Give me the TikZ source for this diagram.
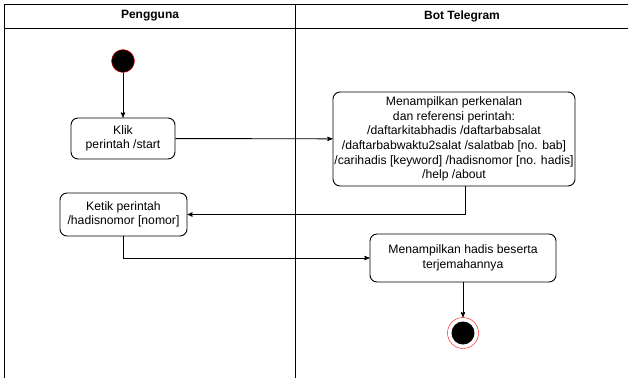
\documentclass[tikz,border=0pt]{standalone}
\usepackage{fontspec}
\setmainfont{Liberation Sans}
\usetikzlibrary{arrows}
\usetikzlibrary{calc}

\begin{document}
\begin{tikzpicture}[x=1pt,y=-1pt,
    lane/.style = {draw = black, line width = 1pt},
    act/.style = {draw = black, line width = 0.9pt, rounded corners = 7pt, align = center, inner sep = 0pt,
        font = \fontsize{12.2}{14.6}\selectfont},
    flow/.style = {draw = black, line width = 0.9pt, -stealth'},
    header/.style = {font = \fontsize{12}{14}\selectfont\bfseries}]
\useasboundingbox (0,0) rectangle (628,378);

    % Swimlanes
\draw[lane] (4,378) -- (4,4) -- (630,4);
\draw[lane] (4,28) -- (630,28);
\draw[lane] (295,4) -- (295,378);
\node[header] (pengguna) at (150,16) {Pengguna};
\node[header] (bot) at (462,16) {Bot Telegram};

\node[circle, draw = red, fill = black, minimum size = 23pt, inner sep = 0pt] (start) at (123,61) {};

\node[act, minimum width = 104pt, minimum height = 41pt] (klik) at (123,138.5) {Klik\\perintah /start};

\node[act, minimum width = 242pt, minimum height = 94pt] (perkenalan) at (454,139)
    {Menampilkan perkenalan\\dan referensi perintah:\\/daftarkitabhadis /daftarbabsalat\\/daftarbabwaktu2salat /salatbab [no. bab]\\/carihadis [keyword] /hadisnomor [no. hadis]\\/help /about};

\node[act, minimum width = 127pt, minimum height = 43pt] (ketik) at (123.5,214.5) {Ketik perintah\\/hadisnomor [nomor]};

\node[act, minimum width = 186pt, minimum height = 48pt] (hasil) at (463,258) {Menampilkan hadis beserta\\terjemahannya};

\node[circle, draw = red, fill = white, minimum size = 31pt, inner sep = 0pt] (end) at (463,333) {};
\node[circle, fill = black, minimum size = 23pt, inner sep = 0pt] (endin) at (end) {};

\draw[flow] (start) -- (klik);
\draw[flow] (klik) -- (perkenalan);
\draw[flow] ([xshift = 11pt]perkenalan.south) |- (ketik.east);
\draw[flow] (ketik.south) |- (hasil.west);
\draw[flow] (hasil) -- (end);

\end{tikzpicture}
\end{document}
